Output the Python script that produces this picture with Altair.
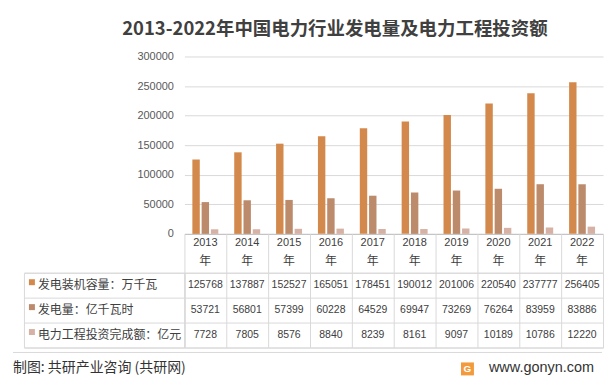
import altair as alt
import pandas as pd

# ---------------- data ----------------
years = ["2013", "2014", "2015", "2016", "2017", "2018", "2019", "2020", "2021", "2022"]
series = ["发电装机容量：万千瓦", "发电量：亿千瓦时", "电力工程投资完成额：亿元"]
capacity = [125768, 137887, 152527, 165051, 178451, 190012, 201006, 220540, 237777, 256405]
generation = [53721, 56801, 57399, 60228, 64529, 69947, 73269, 76264, 83959, 83886]
investment = [7728, 7805, 8576, 8840, 8239, 8161, 9097, 10189, 10786, 12220]
y_ticks = [0, 50000, 100000, 150000, 200000, 250000, 300000]
year_suffix = ["年"] * len(years)
title_text = ["2013-2022年中国电力行业发电量及电力工程投资额"]
source_text = ["制图: 共研产业咨询 (共研网)"]
site_text = ["www.gonyn.com"]
logo_text = ["G"]

colors = ["#D3894C", "#BB8B6C", "#D5B2A5"]
CJK = "Noto Sans CJK SC"
NUM = "Liberation Sans"
GRID = "#d9d9d9"
TXT = "#404040"

values_by_series = [capacity, generation, investment]
rows = []
for s, vals in zip(series, values_by_series):
    for y, v in zip(years, vals):
        rows.append({"year": y, "series": s, "value": v})
df = pd.DataFrame(rows)

NOVIEW = alt.ViewBackground(stroke="transparent")
BORDER = alt.ViewBackground(stroke=GRID, strokeWidth=1)
color_scale = alt.Scale(domain=series, range=colors)
band0 = alt.Scale(type="band", domain=years, paddingInner=0, paddingOuter=0)
row_scale = alt.Scale(type="band", domain=series, paddingInner=0, paddingOuter=0)

LEFTW = 161
PLOTW = 420


def spacer(w, h):
    return (
        alt.Chart(pd.DataFrame({"s": [0]}))
        .mark_point(opacity=0, size=0)
        .encode(x=alt.value(1), y=alt.value(1))
        .properties(width=w, height=h, view=NOVIEW)
    )


# ---------------- title (left cell, text overflows to the right) ----------------
title_cell = (
    alt.Chart(pd.DataFrame({"t": title_text}))
    .mark_text(font=CJK, fontSize=18.5, fontWeight="bold", color=TXT)
    .encode(x=alt.value(312), y=alt.value(19), text="t:N")
    .properties(width=LEFTW, height=47, view=NOVIEW)
)

# ---------------- bars ----------------
bars = (
    alt.Chart(df)
    .mark_bar()
    .encode(
        x=alt.X(
            "year:N",
            sort=years,
            scale=alt.Scale(paddingInner=0.38, paddingOuter=0.19),
            axis=alt.Axis(title=None, labels=False, ticks=False, domain=True,
                          domainColor="#bfbfbf", grid=False),
        ),
        xOffset=alt.XOffset("series:N", sort=series,
                            scale=alt.Scale(paddingInner=0.2, paddingOuter=0)),
        y=alt.Y(
            "value:Q",
            scale=alt.Scale(domain=[0, 300000], nice=False),
            axis=alt.Axis(title=None, values=y_ticks, format="d", labelFont=NUM,
                          labelFontSize=11, labelColor="#595959", labelPadding=11,
                          ticks=False, domain=False, gridColor=GRID),
        ),
        color=alt.Color("series:N", scale=color_scale, legend=None),
    )
    .properties(width=PLOTW, height=178, view=NOVIEW)
)

# ---------------- header (years) ----------------
hdr_df = pd.DataFrame({"year": years, "nian": year_suffix})
hdr_base = alt.Chart(hdr_df).encode(
    x=alt.X("year:N", scale=band0,
            axis=alt.Axis(title=None, labels=False, ticks=False, domain=False,
                          grid=True, gridColor=GRID, tickBand="extent"))
)
header = alt.layer(
    hdr_base.mark_text(font=NUM, fontSize=11, color=TXT).encode(text="year:N", y=alt.value(9)),
    hdr_base.mark_text(font=CJK, fontSize=12, color=TXT).encode(text="nian:N", y=alt.value(27)),
).properties(width=PLOTW, height=39, view=NOVIEW)

# ---------------- table ----------------
table = (
    alt.Chart(df)
    .mark_text(font=NUM, fontSize=10.5, color=TXT)
    .encode(
        x=alt.X("year:N", scale=band0,
                axis=alt.Axis(title=None, labels=False, ticks=False, domain=False,
                              grid=True, gridColor=GRID, tickBand="extent")),
        y=alt.Y("series:N", scale=row_scale,
                axis=alt.Axis(title=None, labels=False, ticks=False, domain=False,
                              grid=True, gridColor=GRID, tickBand="extent")),
        text=alt.Text("value:Q", format="d"),
    )
    .properties(width=PLOTW, height=75, view=BORDER)
)

lab_base = alt.Chart(pd.DataFrame({"series": series})).encode(
    y=alt.Y("series:N", scale=row_scale,
            axis=alt.Axis(title=None, labels=False, ticks=False, domain=False,
                          grid=True, gridColor=GRID, tickBand="extent"))
)
labels = alt.layer(
    lab_base.mark_square(size=36, opacity=1, yOffset=-3).encode(
        x=alt.value(8), color=alt.Color("series:N", scale=color_scale, legend=None)
    ),
    lab_base.mark_text(align="left", font=CJK, fontSize=12, color=TXT).encode(
        x=alt.value(14), text="series:N"
    ),
).properties(width=LEFTW, height=75, view=BORDER)

# ---------------- footer (left cell, marks overflow to the right) ----------------
foot_df = pd.DataFrame({"source": source_text, "site": site_text, "g": logo_text})
fb = alt.Chart(foot_df)
footer = alt.layer(
    fb.mark_rule(color=GRID).encode(x=alt.value(-11), x2=alt.value(580), y=alt.value(5)),
    fb.mark_text(align="left", font=CJK, fontSize=14, color="#333333").encode(
        x=alt.value(-11), y=alt.value(21), text="source:N"),
    fb.mark_square(size=169, color="#F39A3D", opacity=1).encode(x=alt.value(445), y=alt.value(21.5)),
    fb.mark_text(font=NUM, fontSize=10, fontWeight="bold", color="white").encode(
        x=alt.value(445), y=alt.value(22), text="g:N"),
    fb.mark_text(align="right", font=NUM, fontSize=14.5, color="#333333").encode(
        x=alt.value(572), y=alt.value(21), text="site:N"),
).properties(width=LEFTW, height=33, view=NOVIEW)

chart = (
    alt.concat(
        title_cell, spacer(PLOTW, 47),
        spacer(LEFTW, 178), bars,
        spacer(LEFTW, 39), header,
        labels, table,
        footer, spacer(PLOTW, 33),
        columns=2,
        spacing=0,
        bounds="flush",
        align="each",
    )
    .properties(padding={"left": 4, "top": 0, "right": 0, "bottom": 0}, background="white")
    .configure_view(stroke="transparent")
)

chart.save("out.html", embed_options={"renderer": "svg", "actions": False})
